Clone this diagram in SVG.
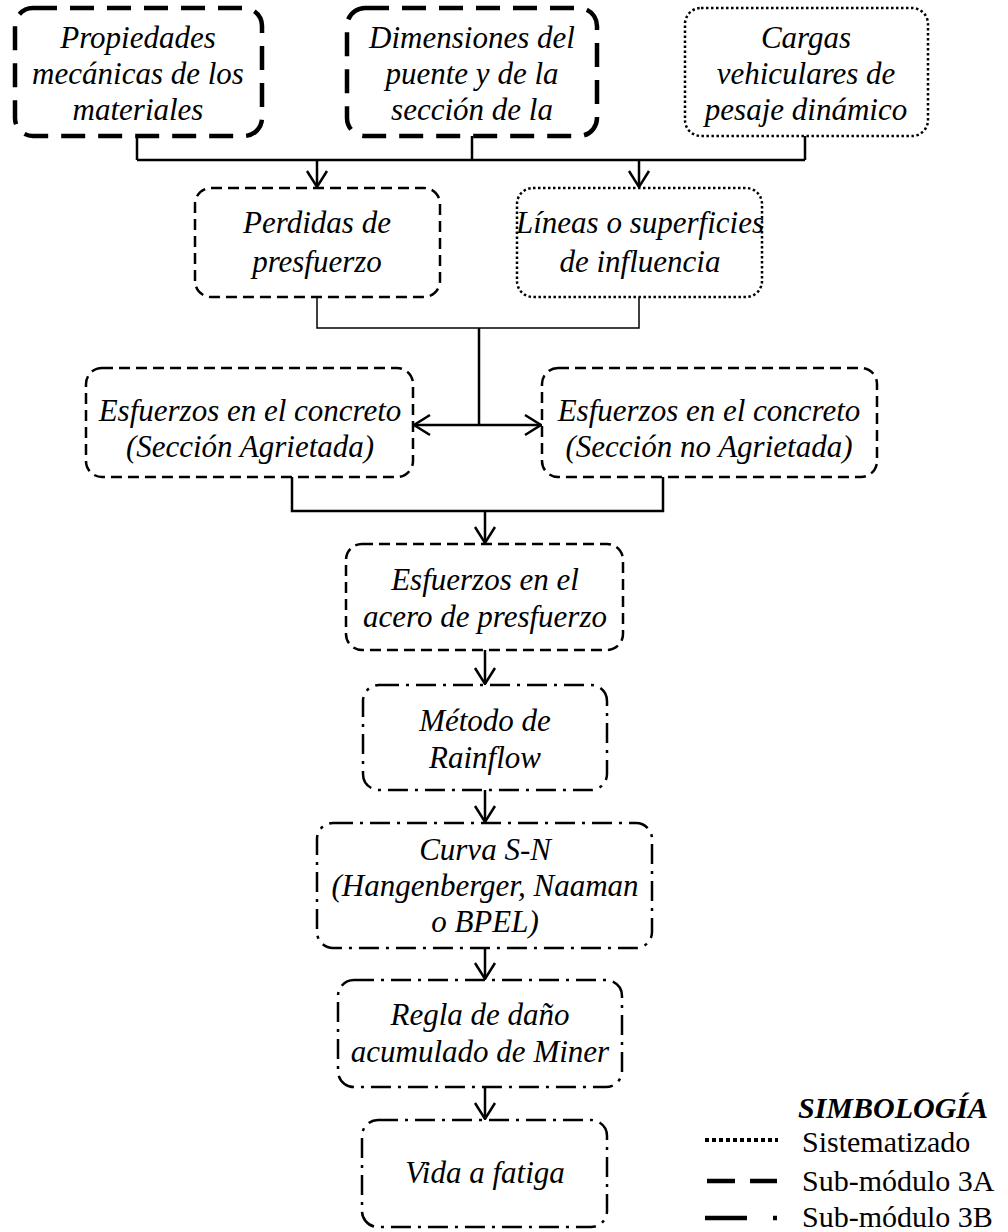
<svg xmlns="http://www.w3.org/2000/svg" width="1008" height="1232" viewBox="0 0 1008 1232">
<style>
.t{font-family:"Liberation Serif","Times New Roman",serif;font-style:italic;font-size:31px;text-anchor:middle;fill:#000}
.lg{font-family:"Liberation Serif","Times New Roman",serif;font-size:30px;fill:#000}
.box{fill:#fff;stroke:#000}
.thickdash{stroke-width:4.5;stroke-dasharray:24 13}
.dash{stroke-width:2.5;stroke-dasharray:11 6}
.dot{stroke-width:2.5;stroke-dasharray:2.5 2.5}
.dashdot{stroke-width:2.5;stroke-dasharray:20 7 3 7}
.conn{fill:none;stroke:#000;stroke-width:2.5}
.thin{stroke-width:1.5}
</style>
<defs>
<marker id="arr" markerUnits="userSpaceOnUse" markerWidth="24" markerHeight="26" viewBox="-20 -13 24 26" refX="0" refY="0" orient="auto-start-reverse">
<path d="M-16,-10 L0,0 L-16,10" fill="none" stroke="#000" stroke-width="2.5"/>
</marker>
</defs>
<g id="connectors">
<path class="conn" d="M137,136 V160 M472,136 V160 M805,136 V160 M137,160 H805"/>
<path class="conn" d="M317,160 V187" marker-end="url(#arr)"/>
<path class="conn" d="M639,160 V187" marker-end="url(#arr)"/>
<path class="conn thin" d="M317,297 V328 H639 V297"/>
<path class="conn" d="M479,328 V425"/>
<path class="conn" d="M414,425 H541" marker-start="url(#arr)" marker-end="url(#arr)"/>
<path class="conn" d="M292,477 V511 H663 V477"/>
<path class="conn" d="M485,511 V543" marker-end="url(#arr)"/>
<path class="conn" d="M485,650 V684" marker-end="url(#arr)"/>
<path class="conn" d="M485,790 V822" marker-end="url(#arr)"/>
<path class="conn" d="M485,948 V979" marker-end="url(#arr)"/>
<path class="conn" d="M485,1087 V1119" marker-end="url(#arr)"/>
</g>
<g id="n-propiedades">
<rect class="box thickdash" x="15" y="8" width="247" height="128" rx="18"/>
<text class="t" x="138" y="48">Propiedades</text>
<text class="t" x="138" y="84">mecánicas de los</text>
<text class="t" x="138" y="120">materiales</text>
</g>
<g id="n-dimensiones">
<rect class="box thickdash" x="347" y="8" width="250" height="128" rx="18"/>
<text class="t" x="472" y="48">Dimensiones del</text>
<text class="t" x="472" y="84">puente y de la</text>
<text class="t" x="472" y="120">sección de la</text>
</g>
<g id="n-cargas">
<rect class="box dot" x="685" y="8" width="243" height="128" rx="16"/>
<text class="t" x="806" y="48">Cargas</text>
<text class="t" x="806" y="84">vehiculares de</text>
<text class="t" x="806" y="120">pesaje dinámico</text>
</g>
<g id="n-perdidas">
<rect class="box dash" x="195" y="188" width="245" height="109" rx="16"/>
<text class="t" x="317" y="233">Perdidas de</text>
<text class="t" x="317" y="272">presfuerzo</text>
</g>
<g id="n-lineas">
<rect class="box dot" x="517" y="188" width="245" height="109" rx="16"/>
<text class="t" x="640" y="233">Líneas o superficies</text>
<text class="t" x="640" y="272">de influencia</text>
</g>
<g id="n-agrietada">
<rect class="box dash" x="86" y="368" width="327" height="109" rx="16"/>
<text class="t" x="250" y="421">Esfuerzos en el concreto</text>
<text class="t" x="250" y="457">(Sección Agrietada)</text>
</g>
<g id="n-noagrietada">
<rect class="box dash" x="542" y="368" width="335" height="109" rx="16"/>
<text class="t" x="709" y="421">Esfuerzos en el concreto</text>
<text class="t" x="709" y="457">(Sección no Agrietada)</text>
</g>
<g id="n-acero">
<rect class="box dash" x="346" y="544" width="277" height="106" rx="16"/>
<text class="t" x="485" y="590">Esfuerzos en el</text>
<text class="t" x="485" y="627">acero de presfuerzo</text>
</g>
<g id="n-rainflow">
<rect class="box dashdot" x="363" y="685" width="244" height="105" rx="16"/>
<text class="t" x="485" y="731">Método de</text>
<text class="t" x="485" y="768">Rainflow</text>
</g>
<g id="n-curva">
<rect class="box dashdot" x="317" y="823" width="335" height="125" rx="16"/>
<text class="t" x="485" y="860">Curva S-N</text>
<text class="t" x="485" y="896">(Hangenberger, Naaman</text>
<text class="t" x="485" y="932">o BPEL)</text>
</g>
<g id="n-regla">
<rect class="box dashdot" x="338" y="980" width="284" height="107" rx="16"/>
<text class="t" x="480" y="1025">Regla de daño</text>
<text class="t" x="480" y="1062">acumulado de Miner</text>
</g>
<g id="n-vida">
<rect class="box dashdot" x="362" y="1120" width="245" height="107" rx="16"/>
<text class="t" x="485" y="1183">Vida a fatiga</text>
</g>
<g id="legend">
<text class="lg" x="798" y="1118" font-weight="bold" font-style="italic">SIMBOLOGÍA</text>
<path d="M705,1140 H778" stroke="#000" stroke-width="4" stroke-dasharray="4 3"/>
<text class="lg" x="802" y="1152">Sistematizado</text>
<path d="M707,1181 H777" stroke="#000" stroke-width="4.5" stroke-dasharray="28 15"/>
<text class="lg" x="802" y="1191">Sub-módulo 3A</text>
<path d="M705,1218 H777" stroke="#000" stroke-width="4.5" stroke-dasharray="42 26 4 100"/>
<text class="lg" x="802" y="1227">Sub-módulo 3B</text>
</g>
</svg>
